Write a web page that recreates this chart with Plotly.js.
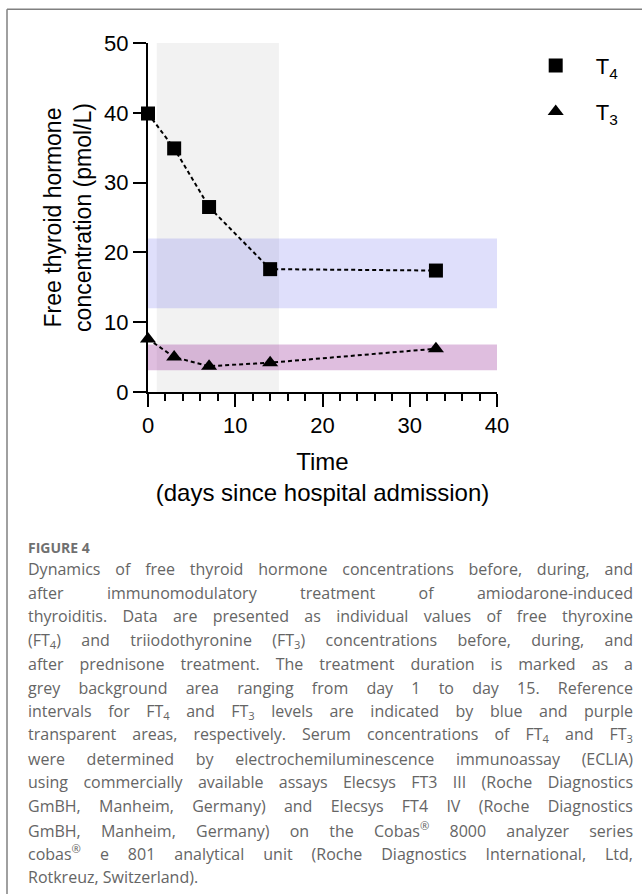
<!DOCTYPE html>
<html>
<head>
<meta charset="utf-8">
<script src="https://cdn.plot.ly/plotly-3.0.1.min.js"></script>
<style>
  html, body { margin: 0; padding: 0; background: #ffffff; }
  #chart { width: 642px; height: 894px; }
</style>
</head>
<body>
<div id="chart"></div>
<script>
// ---- data ----
const daysT4 = [0, 3, 7, 14, 33];
const ft4 = [39.9, 34.9, 26.5, 17.6, 17.4];
const daysT3 = [0, 3, 7, 14, 33];
const ft3 = [7.6, 5.0, 3.7, 4.2, 6.2];
const seriesNames = ['T<sub>4</sub>', 'T<sub>3</sub>'];
const treatmentDays = [1, 15];          // grey background (prednisone treatment)
const refFT4 = [12, 22];                 // blue reference interval
const refFT3 = [3.1, 6.8];               // purple reference interval
const xTickVals = [0, 10, 20, 30, 40];
const yTickVals = [0, 10, 20, 30, 40, 50];
const xRange = [0, 40];
const yRange = [0, 50];

const figureLabel = 'FIGURE 4';
const captionLines = [
  'Dynamics of free thyroid hormone concentrations before, during, and',
  'after immunomodulatory treatment of amiodarone-induced',
  'thyroiditis. Data are presented as individual values of free thyroxine',
  '(FT<sub>4</sub>) and triiodothyronine (FT<sub>3</sub>) concentrations before, during, and',
  'after prednisone treatment. The treatment duration is marked as a',
  'grey background area ranging from day 1 to day 15. Reference',
  'intervals for FT<sub>4</sub> and FT<sub>3</sub> levels are indicated by blue and purple',
  'transparent areas, respectively. Serum concentrations of FT<sub>4</sub> and FT<sub>3</sub>',
  'were determined by electrochemiluminescence immunoassay (ECLIA)',
  'using commercially available assays Elecsys FT3 III (Roche Diagnostics',
  'GmBH, Manheim, Germany) and Elecsys FT4 IV (Roche Diagnostics',
  'GmBH, Manheim, Germany) on the Cobas<sup>®</sup> 8000 analyzer series',
  'cobas<sup>®</sup> e 801 analytical unit (Roche Diagnostics International, Ltd,',
  'Rotkreuz, Switzerland).'
];

// ---- layout geometry ----
const W = 642, H = 894;
const M = { l: 148, r: 145, t: 43, b: 502, pad: 0 };
const PW = W - M.l - M.r, PH = H - M.t - M.b;
const px = x => (x - M.l) / PW;
const py = y => 1 - (y - M.t) / PH;

const FONT = 'Liberation Sans, Arial, Helvetica, sans-serif';
const CAPFONT = 'Open Sans, Noto Sans, sans-serif';

const lineStyle = { color: '#000', width: 2, dash: '4px,3px' };

const traces = [
  { x: daysT4, y: ft4, mode: 'lines', line: lineStyle, showlegend: false, hoverinfo: 'skip', cliponaxis: false },
  { x: daysT3, y: ft3, mode: 'lines', line: lineStyle, showlegend: false, hoverinfo: 'skip', cliponaxis: false },
  { x: daysT4, y: ft4, mode: 'markers', name: seriesNames[0], legend: 'legend',
    marker: { symbol: 'square', size: 14, color: '#000', line: { width: 0 } }, cliponaxis: false },
  { x: daysT3, y: ft3, mode: 'markers', name: seriesNames[1], legend: 'legend2',
    marker: { symbol: 'triangle-up', size: 14, color: '#000', line: { width: 0 } }, cliponaxis: false }
];

const shapes = [
  { type: 'rect', xref: 'x', yref: 'y', x0: treatmentDays[0], x1: treatmentDays[1], y0: yRange[0], y1: yRange[1],
    fillcolor: '#f2f2f2', line: { width: 0 }, layer: 'below' },
  { type: 'rect', xref: 'x', yref: 'y', x0: xRange[0], x1: xRange[1], y0: refFT4[0], y1: refFT4[1],
    fillcolor: 'rgba(40,40,230,0.15)', line: { width: 0 }, layer: 'below' },
  { type: 'rect', xref: 'x', yref: 'y', x0: xRange[0], x1: xRange[1], y0: refFT3[0], y1: refFT3[1],
    fillcolor: 'rgba(150,40,150,0.3)', line: { width: 0 }, layer: 'below' },
  // figure frame (top and left edges)
  { type: 'line', xref: 'paper', yref: 'paper', x0: px(7), x1: px(W + 2), y0: py(9.3), y1: py(9.3),
    line: { color: '#808080', width: 1.5 } },
  { type: 'line', xref: 'paper', yref: 'paper', x0: px(7), x1: px(7), y0: py(9.3), y1: py(H + 2),
    line: { color: '#808080', width: 1.5 } }
];

const CAP_LEFT = 26, CAP_RIGHT = 631;
const annotations = [
  { text: figureLabel, xref: 'paper', yref: 'paper', x: px(CAP_LEFT), y: py(547.5), xanchor: 'left', yanchor: 'middle',
    align: 'left', showarrow: false, font: { family: CAPFONT, size: 14, color: '#707070', weight: 700 } }
];
const CAP_TOP = 569, CAP_STEP = 23.7;
captionLines.forEach((t, i) => {
  annotations.push({ text: t, xref: 'paper', yref: 'paper', x: px(CAP_LEFT), y: py(CAP_TOP + CAP_STEP * i),
    xanchor: 'left', yanchor: 'middle', align: 'left', showarrow: false,
    font: { family: CAPFONT, size: 16, color: '#656565' } });
});

const axisCommon = {
  showline: true, linecolor: '#000', linewidth: 2, mirror: false,
  ticks: 'outside', ticklen: 13, tickwidth: 2, tickcolor: '#000',
  showgrid: false, zeroline: false, fixedrange: true,
  tickfont: { family: FONT, size: 22, color: '#000' }
};

const legendCommon = {
  bgcolor: 'rgba(0,0,0,0)', borderwidth: 0, itemwidth: 70, xanchor: 'left', yanchor: 'middle',
  font: { family: FONT, size: 22, color: '#000' }, itemclick: false, itemdoubleclick: false
};

const layout = {
  width: W, height: H, margin: M,
  paper_bgcolor: '#fff', plot_bgcolor: 'rgba(0,0,0,0)',
  showlegend: true,
  xaxis: Object.assign({}, axisCommon, {
    range: xRange, tickmode: 'array', tickvals: xTickVals,
    minor: { tickmode: 'linear', tick0: 0, dtick: 2, ticks: 'outside', ticklen: 7, tickwidth: 2, tickcolor: '#000', showgrid: false },
    title: { text: 'Time<br>(days since hospital admission)', font: { family: FONT, size: 24, color: '#000' }, standoff: 16 }
  }),
  yaxis: Object.assign({}, axisCommon, {
    range: yRange, tickmode: 'array', tickvals: yTickVals,
    title: { text: 'Free thyroid hormone<br>concentration (pmol/L)', font: { family: FONT, size: 23, color: '#000' }, standoff: 6 }
  }),
  legend: Object.assign({}, legendCommon, { x: px(515.7), y: py(65.7) }),
  legend2: Object.assign({}, legendCommon, { x: px(515.7), y: py(111.7) }),
  shapes: shapes,
  annotations: annotations
};

Plotly.newPlot('chart', traces, layout, { staticPlot: true, displayModeBar: false }).then(() => {
  // justify caption lines (all but the final one), as in the printed caption
  document.querySelectorAll('#chart g.annotation').forEach(g => {
    const idx = +g.getAttribute('data-index');
    const lineNo = idx - 1;
    if (lineNo < 0 || lineNo >= captionLines.length - 1) return;
    const t = g.querySelector('text.annotation-text');
    if (!t) return;
    const n = (t.textContent.match(/ /g) || []).length;
    if (!n) return;
    const w = t.getComputedTextLength();
    const ws = (CAP_RIGHT - CAP_LEFT - w) / n;
    t.style.wordSpacing = ws + 'px';
  });
});
</script>
</body>
</html>
